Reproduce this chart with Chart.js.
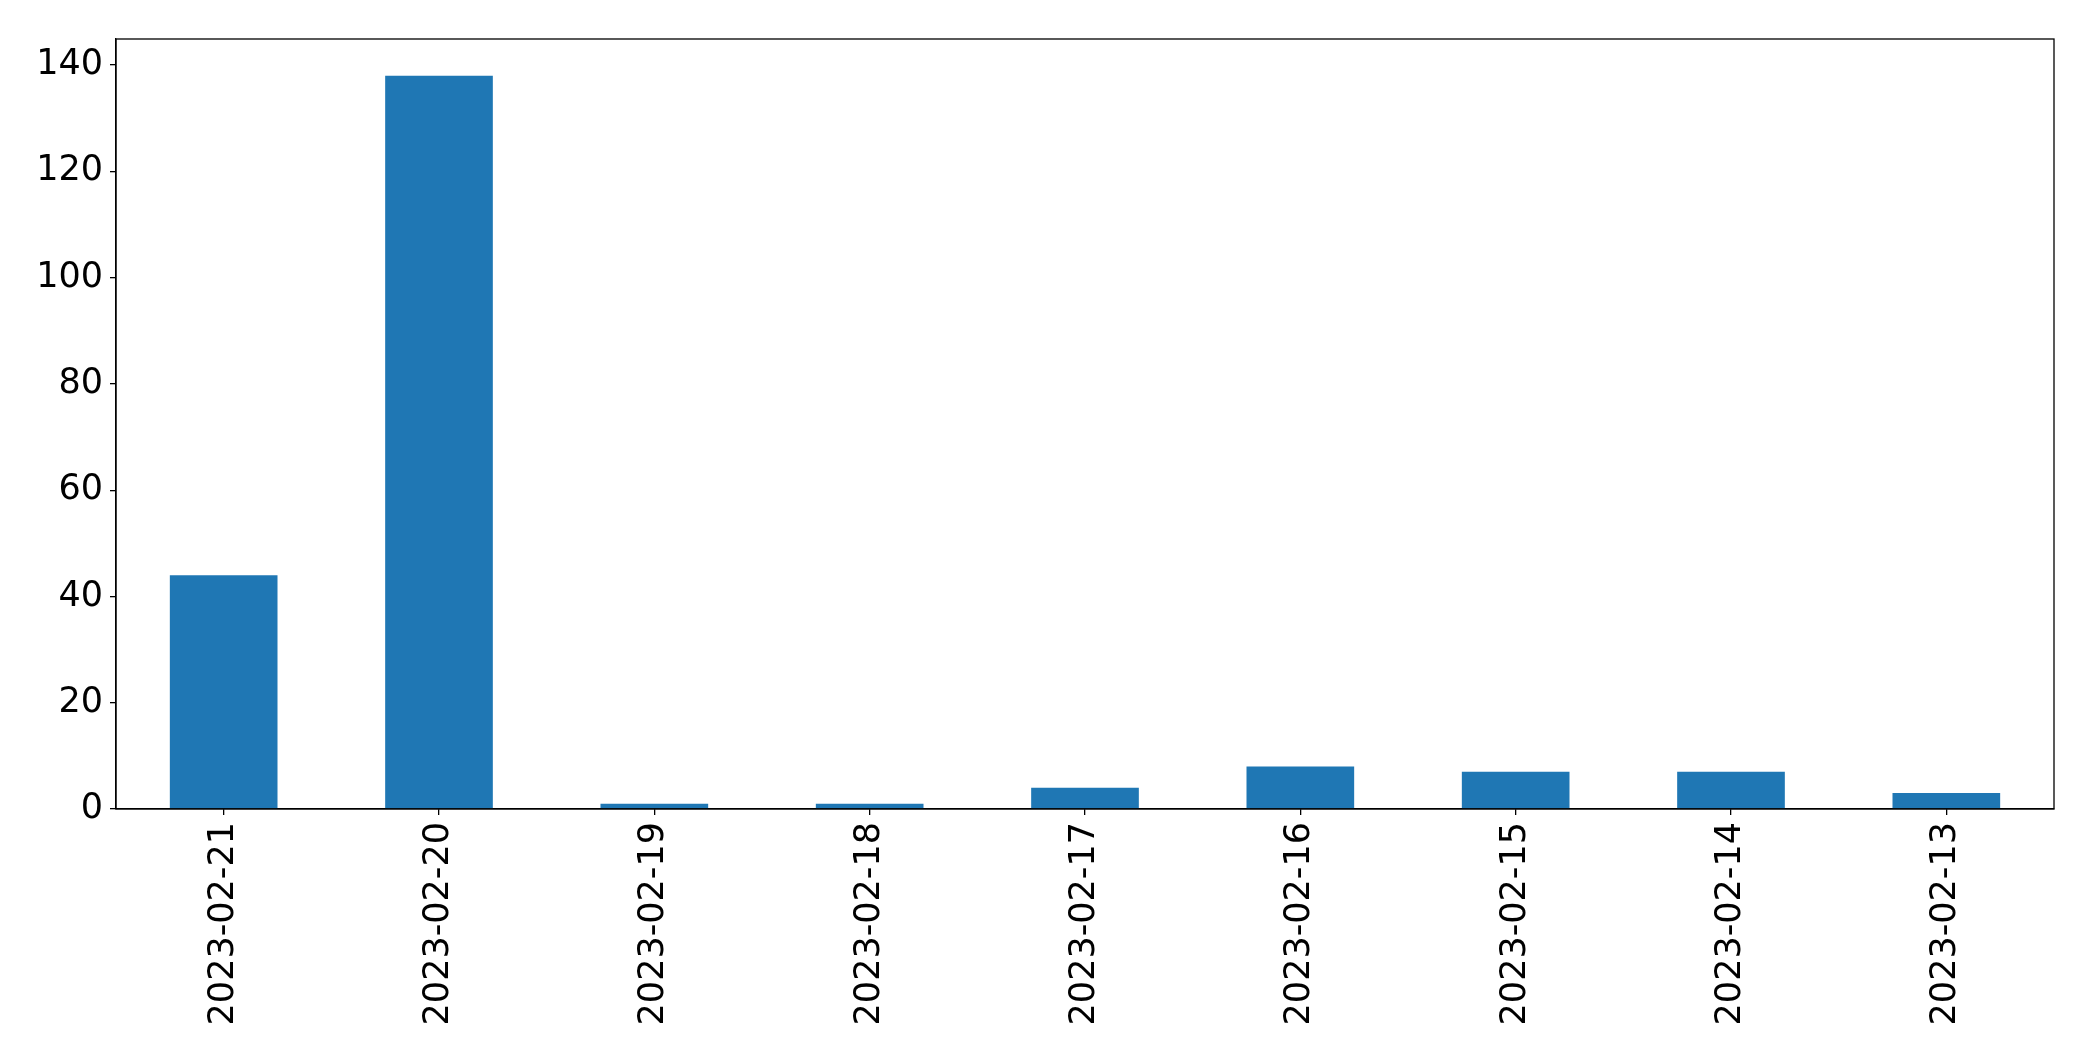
<!DOCTYPE html>
<html>
<head>
<meta charset="utf-8">
<script src="https://cdn.jsdelivr.net/npm/chart.js@4/dist/chart.umd.min.js"></script>
<style>
  html, body { margin: 0; padding: 0; background: #fff; }
  canvas { display: block; }
</style>
</head>
<body>
<canvas id="bar-chart" width="2093" height="1061"></canvas>
<script>
const dates = ['2023-02-21', '2023-02-20', '2023-02-19', '2023-02-18', '2023-02-17',
  '2023-02-16', '2023-02-15', '2023-02-14', '2023-02-13'];
const counts = [44, 138, 1, 1, 4, 8, 7, 7, 3];
const yTicks = [0, 20, 40, 60, 80, 100, 120, 140];

const BAR_COLOR = '#1f77b4';
const FONT = { family: "'DejaVu Sans', sans-serif", size: 35 };

// matplotlib style frame around the plot area
const frame = {
  id: 'frame',
  afterDraw(chart) {
    const { ctx, chartArea: a } = chart;
    ctx.save();
    ctx.strokeStyle = '#000';
    ctx.lineWidth = 1.3;
    ctx.strokeRect(a.left, a.top, a.right - a.left, a.bottom - a.top);
    ctx.restore();
  }
};

const canvas = document.getElementById('bar-chart');
const chart = new Chart(canvas, {
  type: 'bar',
  data: {
    labels: dates,
    datasets: [{
      data: counts,
      backgroundColor: BAR_COLOR,
      borderWidth: 0,
      categoryPercentage: 1,
      barPercentage: 0.5
    }]
  },
  options: {
    responsive: false,
    animation: false,
    devicePixelRatio: 1,
    layout: { padding: { top: 39, right: 39, left: 0, bottom: 0 } },
    plugins: {
      legend: { display: false },
      tooltip: { enabled: false }
    },
    scales: {
      x: {
        grid: { offset: false, drawOnChartArea: false, drawTicks: true, tickLength: 6, color: '#000', lineWidth: 1.3 },
        border: { display: true, color: '#000', width: 1.3 },
        ticks: { color: '#000', font: FONT, minRotation: 90, maxRotation: 90, padding: 7, autoSkip: false },
        afterFit: (scale) => { scale.height = 252; }
      },
      y: {
        min: 0,
        max: Math.max(...counts) * 1.05,
        afterBuildTicks: (scale) => { scale.ticks = yTicks.map(v => ({ value: v })); },
        grid: { drawOnChartArea: false, drawTicks: true, tickLength: 6, color: '#000', lineWidth: 1.3 },
        border: { display: true, color: '#000', width: 1.3 },
        ticks: { color: '#000', font: FONT, padding: 7 },
        afterFit: (scale) => { scale.width = 116; }
      }
    }
  },
  plugins: [frame]
});
</script>
</body>
</html>
